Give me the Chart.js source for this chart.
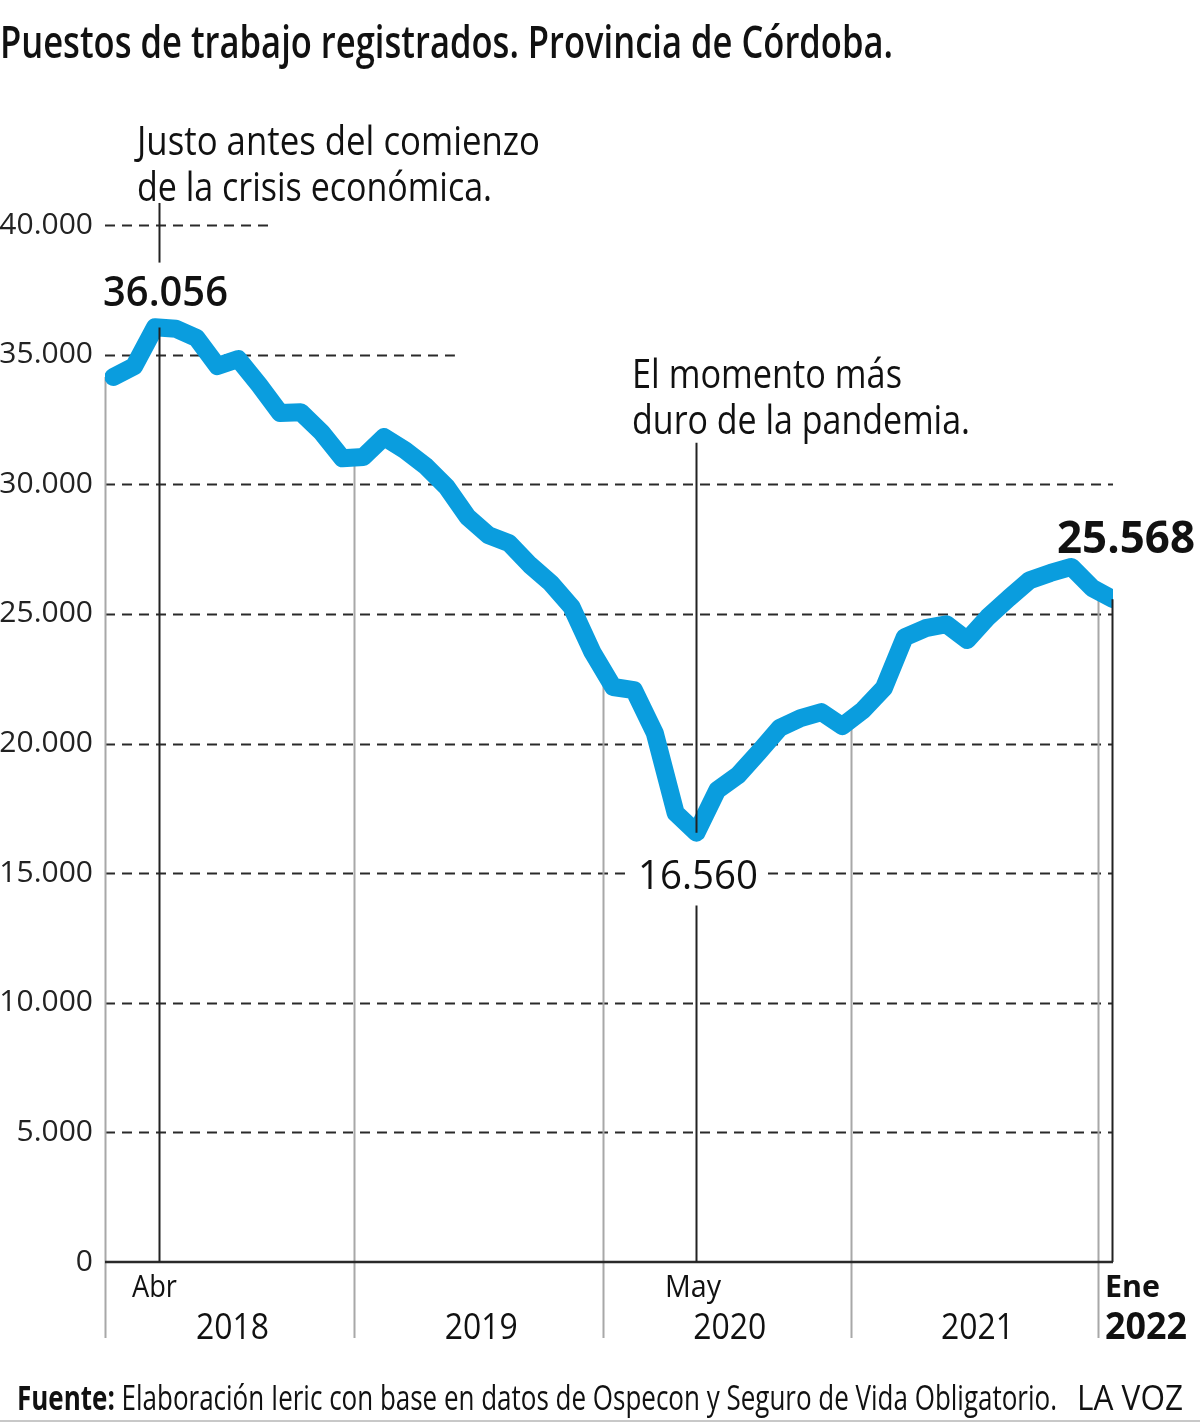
<!DOCTYPE html>
<html>
<head>
<meta charset="utf-8">
<script src="https://cdn.jsdelivr.net/npm/chart.js@4.4.1/dist/chart.umd.min.js"></script>
<style>
  body { margin: 0; background: #fff; }
  #wrap { position: relative; width: 1200px; height: 1425px; overflow: hidden; }
  #chart { position: absolute; left: 0; top: 0; }
  .fit { position: absolute; white-space: nowrap; transform-origin: left top; color: #111;
         font-family: "Open Sans", "Noto Sans", sans-serif; line-height: 1; }
  #title { left: 0; top: 17px; font-size: 46px; font-weight: 600; }
  #source { left: 17px; top: 1380px; font-size: 34px; font-weight: 400; }
  #source b { font-weight: 700; }
  #brand { left: 1077px; top: 1380px; font-size: 34px; font-weight: 400; }
  #rule { position: absolute; left: 0; top: 1420px; width: 1200px; height: 2px; background: #c8c8c8; }
</style>
</head>
<body>
<div id="wrap">
  <canvas id="chart" width="1200" height="1425"></canvas>
  <div class="fit" id="title" data-w="893">Puestos de trabajo registrados. Provincia de Córdoba.</div>
  <div class="fit" id="source" data-w="1040"><b>Fuente:</b> Elaboración Ieric con base en datos de Ospecon y Seguro de Vida Obligatorio.</div>
  <div class="fit" id="brand" data-w="106">LA VOZ</div>
  <div id="rule"></div>
</div>
<script>
// ── data ──────────────────────────────────────────────────────────────────────

var months = [
  "Ene 2018", "Feb 2018", "Mar 2018", "Abr 2018", "May 2018", "Jun 2018",
  "Jul 2018", "Ago 2018", "Sep 2018", "Oct 2018", "Nov 2018", "Dic 2018",
  "Ene 2019", "Feb 2019", "Mar 2019", "Abr 2019", "May 2019", "Jun 2019",
  "Jul 2019", "Ago 2019", "Sep 2019", "Oct 2019", "Nov 2019", "Dic 2019",
  "Ene 2020", "Feb 2020", "Mar 2020", "Abr 2020", "May 2020", "Jun 2020",
  "Jul 2020", "Ago 2020", "Sep 2020", "Oct 2020", "Nov 2020", "Dic 2020",
  "Ene 2021", "Feb 2021", "Mar 2021", "Abr 2021", "May 2021", "Jun 2021",
  "Jul 2021", "Ago 2021", "Sep 2021", "Oct 2021", "Nov 2021", "Dic 2021",
  "Ene 2022"
];

var puestos = [
  34140, 34550, 36056, 36000, 35640, 34560, 34830, 33830, 32750, 32780, 32000, 31000,
  31050, 31820, 31320, 30700, 29900, 28750, 28040, 27730, 26890, 26190, 25270, 23530,
  22180, 22060, 20400, 17320, 16560, 18200, 18780, 19670, 20600, 20980, 21210, 20670,
  21290, 22140, 24100, 24450, 24600, 23990, 24880, 25610, 26300, 26580, 26810, 26000,
  25568
];

var yTicks = [0, 5000, 10000, 15000, 20000, 25000, 30000, 35000, 40000];
var years = ["2018", "2019", "2020", "2021", "2022"];
var yearEdges = [-0.4, 11.55, 23.5, 35.4, 47.3];   // month index of each separator
var gridEnds = { 40000: 7.5, 35000: 16.4 };        // short dashed lines, month index

var BLUE = "#0a9dde";
var INK = "#111";
var FONT = '"Open Sans", "Noto Sans", sans-serif';

// ── helpers ───────────────────────────────────────────────────────────────────

function fmtNum(v) {
  return String(v).replace(/\B(?=(\d{3})+(?!\d))/g, ".");
}

function valueAt(idx) {
  if (idx <= 0) return puestos[0];
  if (idx >= puestos.length - 1) return puestos[puestos.length - 1];
  var i = Math.floor(idx), f = idx - i;
  return puestos[i] + (puestos[i + 1] - puestos[i]) * f;
}

// text squeezed horizontally to a given width (the original face is condensed)
function fitText(ctx, text, x, y, width, font, align) {
  ctx.save();
  ctx.font = font;
  var w = ctx.measureText(text).width;
  var ox = align === "center" ? -width / 2 : 0;
  ctx.translate(x + ox, y);
  ctx.scale(width / w, 1);
  ctx.textAlign = "left";
  ctx.textBaseline = "alphabetic";
  ctx.fillStyle = INK;
  ctx.fillText(text, 0, 0);
  ctx.restore();
}

function vline(ctx, x, y1, y2, color, width) {
  ctx.save();
  ctx.strokeStyle = color;
  ctx.lineWidth = width;
  ctx.beginPath();
  ctx.moveTo(x, y1);
  ctx.lineTo(x, y2);
  ctx.stroke();
  ctx.restore();
}

// ── decoration plugin ─────────────────────────────────────────────────────────

var decor = {
  id: "decor",
  beforeDatasetsDraw: function(chart) {
    var ctx = chart.ctx, xs = chart.scales.x, ys = chart.scales.y, a = chart.chartArea;

    // dashed grid
    ctx.save();
    ctx.strokeStyle = "#2a2a2a";
    ctx.lineWidth = 2;
    ctx.setLineDash([10, 7]);
    yTicks.forEach(function(t) {
      if (t === 0) return;
      var y = Math.round(ys.getPixelForValue(t)) + 0.5;
      var xEnd = gridEnds[t] !== undefined ? xs.getPixelForValue(gridEnds[t]) : a.right;
      ctx.beginPath();
      ctx.moveTo(a.left, y);
      ctx.lineTo(xEnd, y);
      ctx.stroke();
    });
    ctx.restore();

    // grey year separators, from the line down past the axis
    yearEdges.forEach(function(e) {
      var x = Math.round(xs.getPixelForValue(e)) + 0.5;
      vline(ctx, x, ys.getPixelForValue(valueAt(e)), a.bottom + 76, "#a8a8a8", 2);
    });

    // base line
    ctx.save();
    ctx.strokeStyle = "#2a2a2a";
    ctx.lineWidth = 2.5;
    ctx.beginPath();
    ctx.moveTo(a.left, ys.getPixelForValue(0));
    ctx.lineTo(a.right, ys.getPixelForValue(0));
    ctx.stroke();
    ctx.restore();
  },
  afterDatasetsDraw: function(chart) {
    var ctx = chart.ctx, xs = chart.scales.x, ys = chart.scales.y, a = chart.chartArea;
    var y0 = ys.getPixelForValue(0);

    // marker: Abr 2018
    var xa = Math.round(xs.getPixelForValue(2.2)) + 0.5;
    vline(ctx, xa, ys.getPixelForValue(40850), ys.getPixelForValue(38550), "#222", 2);
    vline(ctx, xa, ys.getPixelForValue(valueAt(2.2)), y0, "#222", 2);

    // marker: May 2020
    var xm = Math.round(xs.getPixelForValue(28)) + 0.5;
    vline(ctx, xm, ys.getPixelForValue(31600), ys.getPixelForValue(puestos[28]), "#222", 2);
    vline(ctx, xm, ys.getPixelForValue(13750), y0, "#222", 2);

    // marker: Ene 2022
    var xe = Math.round(xs.getPixelForValue(48)) - 0.5;
    vline(ctx, xe, ys.getPixelForValue(puestos[48]), y0, "#222", 2);

    // notes
    var reg = "400 40px " + FONT;
    fitText(ctx, "Justo antes del comienzo", 137, 155, 403, reg);
    fitText(ctx, "de la crisis económica.", 137, 201, 355, reg);
    fitText(ctx, "El momento más", 632, 388, 270, reg);
    fitText(ctx, "duro de la pandemia.", 632, 434, 338, reg);

    // values
    fitText(ctx, fmtNum(puestos[2]), 103, 306, 125, "600 41px " + FONT);
    var ty = ys.getPixelForValue(15000);
    ctx.fillStyle = "#fff";
    ctx.fillRect(632, ty - 4, 130, 8);
    fitText(ctx, fmtNum(puestos[28]), 638, 889, 120, "500 41px " + FONT);
    fitText(ctx, fmtNum(puestos[48]), 1057, 553, 138, "700 44px " + FONT);

    // x labels
    var small = "400 31px " + FONT;
    fitText(ctx, "Abr", 132, 1297, 45, small);
    fitText(ctx, "May", 665, 1297, 56, small);
    fitText(ctx, "Ene", 1105, 1297, 55, "700 31px " + FONT);
    for (var i = 0; i < 4; i++) {
      var cx = (xs.getPixelForValue(yearEdges[i]) + xs.getPixelForValue(yearEdges[i + 1])) / 2 + 3;
      fitText(ctx, years[i], cx, 1339, 73, "400 37px " + FONT, "center");
    }
    fitText(ctx, years[4], 1105, 1339, 82, "700 37px " + FONT);
  }
};

// ── chart ─────────────────────────────────────────────────────────────────────

var points = puestos.map(function(v, i) { return { x: i, y: v }; });

new Chart(document.getElementById("chart").getContext("2d"), {
  type: "line",
  data: {
    labels: months,
    datasets: [{
      label: "Puestos de trabajo",
      data: points,
      borderColor: BLUE,
      borderWidth: 18,
      borderCapStyle: "round",
      borderJoinStyle: "round",
      pointRadius: 0,
      tension: 0,
      fill: false
    }]
  },
  options: {
    responsive: false,
    animation: false,
    devicePixelRatio: 1,
    layout: { padding: { top: 225, right: 87, bottom: 163, left: 0 } },
    plugins: { legend: { display: false }, tooltip: { enabled: false } },
    scales: {
      x: {
        type: "linear",
        min: -0.4,
        max: 48,
        display: false
      },
      y: {
        min: 0,
        max: 40000,
        afterFit: function(s) { s.width = 105; },
        afterBuildTicks: function(s) { s.ticks = yTicks.map(function(v) { return { value: v }; }); },
        border: { display: false },
        grid: { display: false, drawTicks: false },
        ticks: {
          padding: 12,
          color: "#222",
          font: { family: FONT, size: 30 },
          callback: function(v) { return fmtNum(v); }
        }
      }
    }
  },
  plugins: [decor]
});

// squeeze the html texts to the reference widths
document.querySelectorAll(".fit").forEach(function(el) {
  var w = el.getBoundingClientRect().width;
  el.style.transform = "scaleX(" + (parseFloat(el.dataset.w) / w) + ")";
});
</script>
</body>
</html>
